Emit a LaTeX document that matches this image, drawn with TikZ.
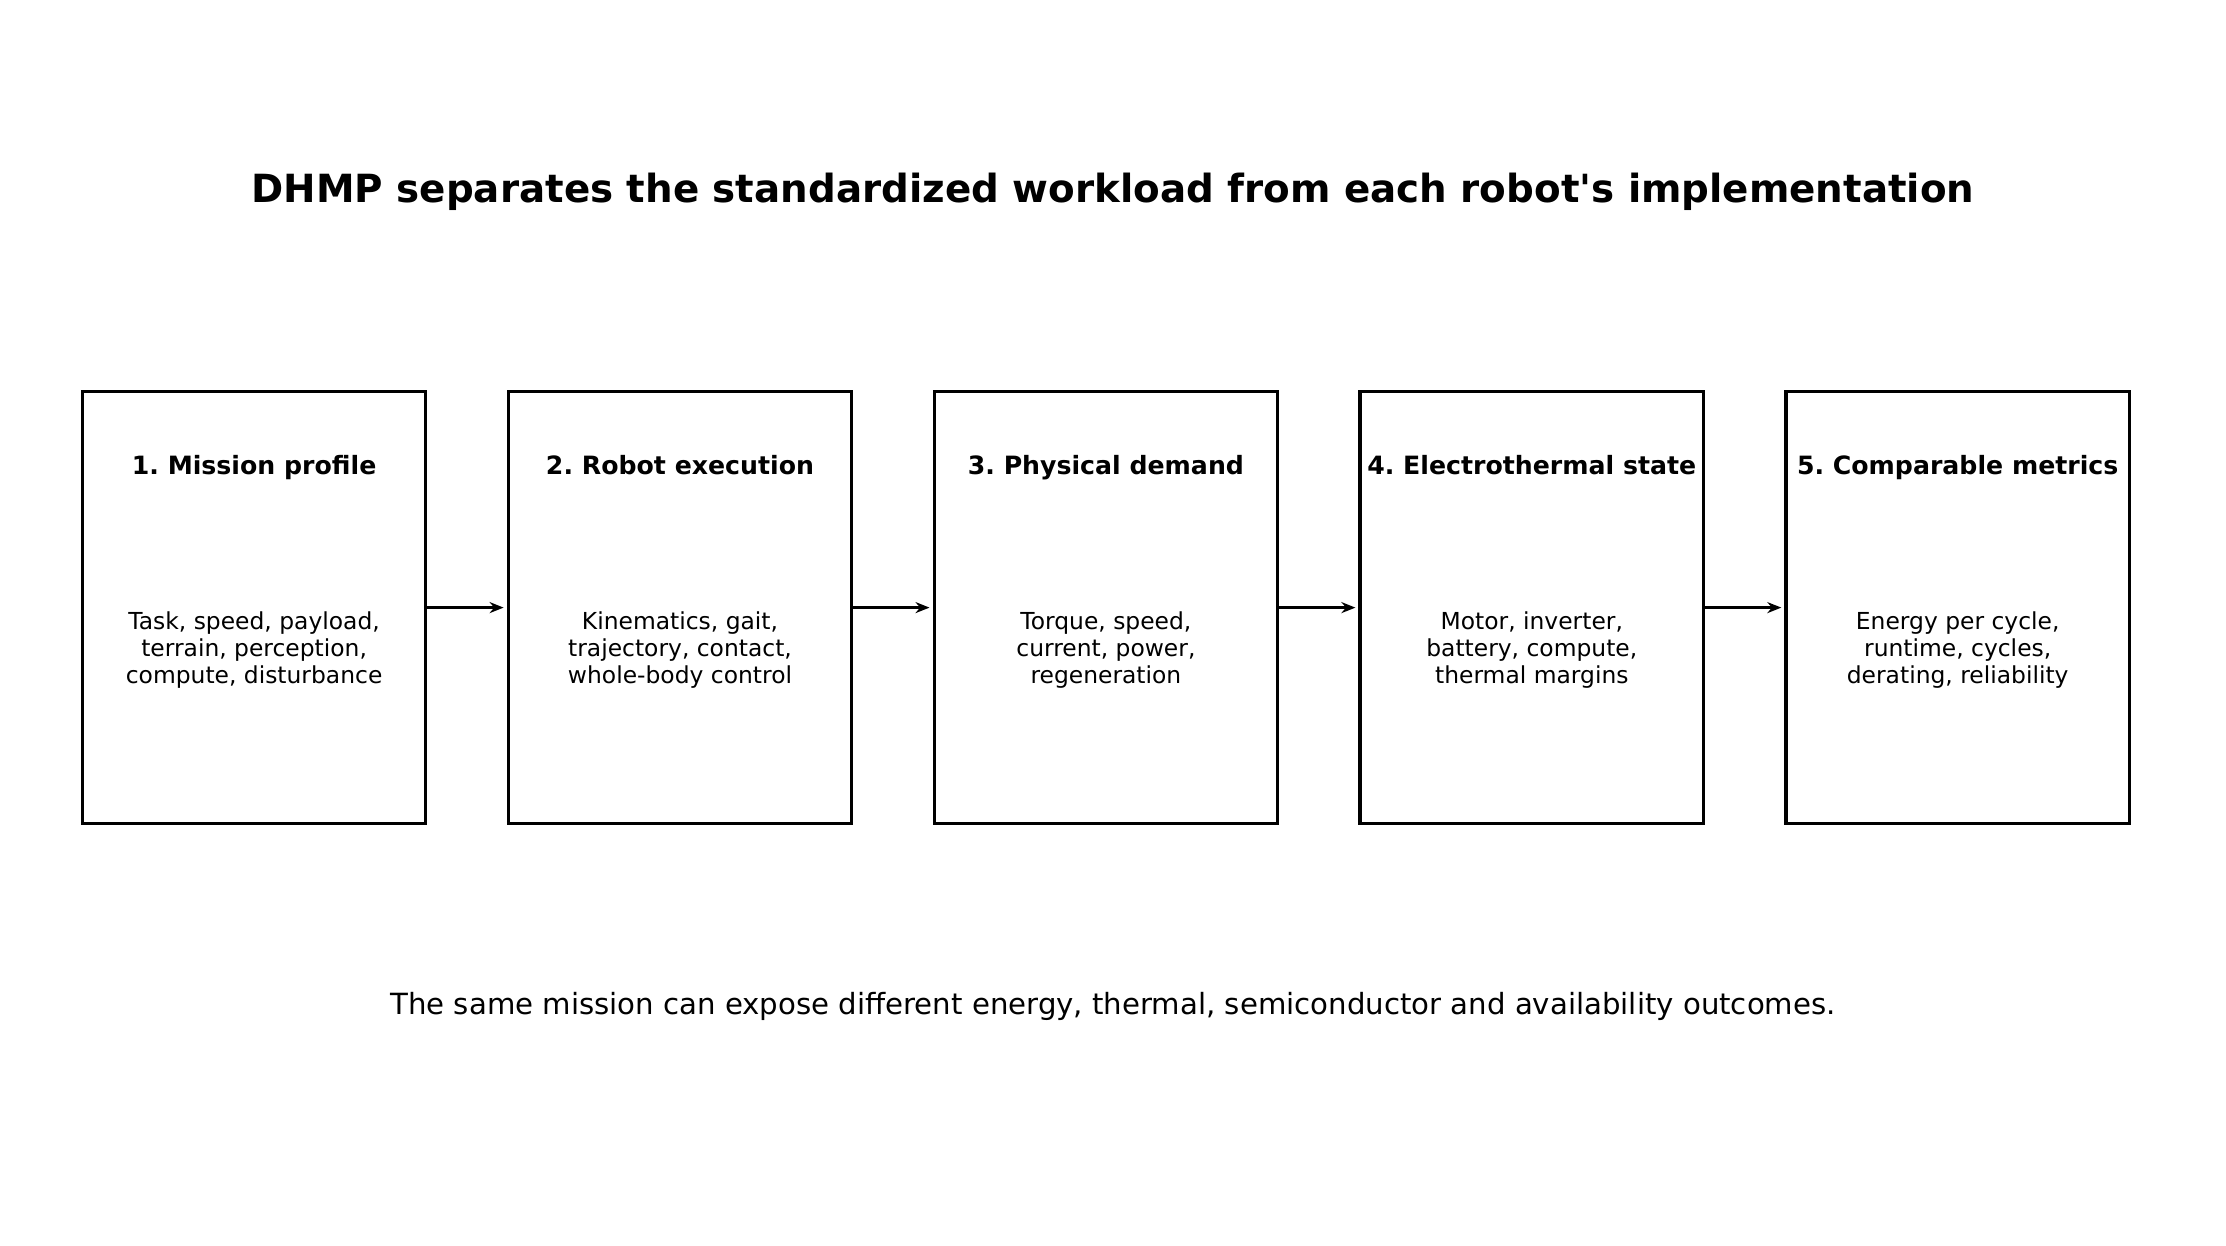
\documentclass[tikz,border=0pt]{standalone}
\usepackage{fontspec}
\setmainfont{DejaVu Sans}
\usetikzlibrary{arrows.meta}
\begin{document}
\frenchspacing
\begin{tikzpicture}[x=0.7098pt,y=-0.7098pt,
  box/.style={draw,line width=1.6pt,minimum width=242*0.7098pt,minimum height=304*0.7098pt,inner sep=0pt},
  ttl/.style={font=\bfseries\fontsize{12.6}{15}\selectfont,anchor=base},
  body/.style={font=\fontsize{11.7}{13.5}\selectfont,align=center},
  arr/.style={-{Stealth[length=7pt,width=5.5pt]},line width=1.5pt}]
\useasboundingbox (0,0) rectangle (1568,877);
\node[font=\bfseries\fontsize{19.4}{23}\selectfont] (title) at (784,135) {DHMP separates the standardized workload from each robot\textquotesingle s implementation};
\foreach \i/\t/\b in {1/{1. Mission profile}/{Task, speed, payload,\\terrain, perception,\\compute, disturbance},
  2/{2. Robot execution}/{Kinematics, gait,\\trajectory, contact,\\whole-body control},
  3/{3. Physical demand}/{Torque, speed,\\current, power,\\regeneration},
  4/{4. Electrothermal state}/{Motor, inverter,\\battery, compute,\\thermal margins},
  5/{5. Comparable metrics}/{Energy per cycle,\\runtime, cycles,\\derating, reliability}}{
  \node[box] (b\i) at ({179+300*(\i-1)},428) {};
  \node[ttl] (t\i) at ({179+300*(\i-1)},334) {\t};
  \node[body] (d\i) at ({179+300*(\i-1)},458) {\b};
}
\foreach \i [evaluate=\i as \j using int(\i+1)] in {1,2,3,4}{
  \draw[arr] (b\i.east) -- ([xshift=-1.5pt]b\j.west);
}
\node[font=\fontsize{14.6}{17}\selectfont] (cap) at (784,709) {The same mission can expose different energy, thermal, semiconductor and availability outcomes.};
\end{tikzpicture}
\end{document}
